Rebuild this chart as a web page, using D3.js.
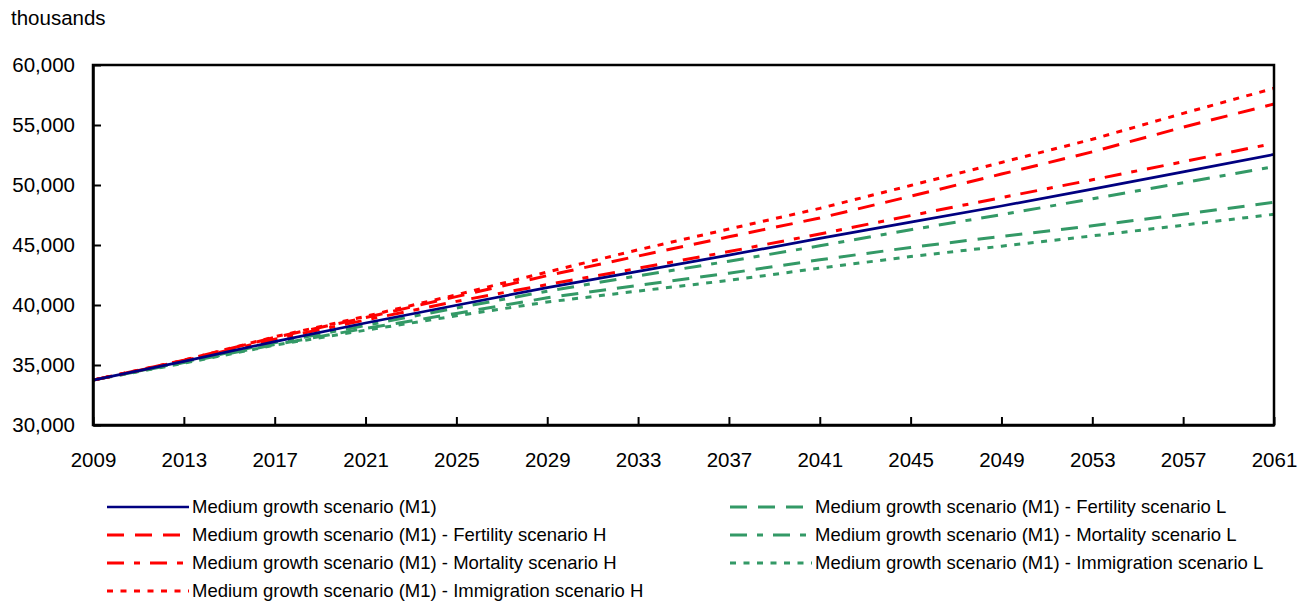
<!DOCTYPE html>
<html><head><meta charset="utf-8">
<script src="https://cdn.jsdelivr.net/npm/d3@7"></script>
<style>
body{margin:0;background:#fff}
svg text{font-family:"Liberation Sans",Arial,Helvetica,sans-serif;fill:#000}
</style>
</head><body>
<svg id="chart" width="1305" height="602"></svg>
<script>
// ---- data (thousands) ----
const years = [2009,2013,2017,2021,2025,2029,2033,2037,2041,2045,2049,2053,2057,2061];
const xTickLabels = [2009,2013,2017,2021,2025,2029,2033,2037,2041,2045,2049,2053,2057,2061];
const yTickValues = [30000,35000,40000,45000,50000,55000,60000];

const m1         = [33740,35300,36950,38500,39980,41450,42800,44160,45550,46900,48250,49650,51090,52550];
const fertilityH = [33740,35400,37300,38950,40700,42450,44080,45680,47250,49060,50910,52760,54820,56750];
const mortalityH = [33740,35350,37150,38750,40300,41700,43060,44450,45920,47450,48950,50430,51940,53475];
const immigrationH=[33740,35400,37350,39050,40850,42750,44600,46330,48050,49960,51880,53810,55970,58060];
const fertilityL = [33740,35200,36700,38050,39300,40600,41640,42650,43770,44800,45720,46600,47560,48560];
const mortalityL = [33740,35250,36850,38300,39750,41150,42430,43650,44930,46270,47530,48850,50190,51525];
const immigrationL=[33740,35150,36650,37900,39100,40250,41160,42050,43070,44040,44900,45760,46650,47560];

const seriesNames = [
  "Medium growth scenario (M1)",
  "Medium growth scenario (M1) - Fertility scenario H",
  "Medium growth scenario (M1) - Mortality scenario H",
  "Medium growth scenario (M1) - Immigration scenario H",
  "Medium growth scenario (M1) - Fertility scenario L",
  "Medium growth scenario (M1) - Mortality scenario L",
  "Medium growth scenario (M1) - Immigration scenario L"
];
const seriesValues = [m1, fertilityH, mortalityH, immigrationH, fertilityL, mortalityL, immigrationL];

// ---- styles ----
const NAVY="#000080", RED="#ff0000", GREEN="#339966";
const styles = [
  {color:NAVY, dash:null, w:2.7},
  {color:RED, dash:"17,11", w:3},
  {color:RED, dash:"17,10,6,10", w:3},
  {color:RED, dash:"6,7.5", w:3},
  {color:GREEN, dash:"17,11", w:3},
  {color:GREEN, dash:"17,10,6,10", w:3},
  {color:GREEN, dash:"6,7.5", w:3}
];

const svg = d3.select("#chart");
const L=93, R=1274, T=65, B=425;
const x = d3.scaleLinear().domain([2009,2061]).range([L,R]);
const y = d3.scaleLinear().domain([30000,60000]).range([B,T]);

const line = d3.line().x((d,i)=>x(years[i])).y(d=>y(d));
const order = [4,5,6,1,2,3,0];
order.forEach(k=>{
  svg.append("path")
    .datum(seriesValues[k])
    .attr("fill","none")
    .attr("stroke",styles[k].color)
    .attr("stroke-width",styles[k].w)
    .attr("stroke-dasharray",styles[k].dash)
    .attr("d",line);
});

// frame
svg.append("rect").attr("x",L).attr("y",T).attr("width",R-L).attr("height",B-T)
  .attr("fill","none").attr("stroke","#000").attr("stroke-width",2.5);

// axes
const FONT="Liberation Sans, Arial, sans-serif";
const xAxis = d3.axisBottom(x).tickValues(xTickLabels).tickFormat(d=>String(d))
  .tickSizeInner(-8).tickSizeOuter(0).tickPadding(27);
const gx = svg.append("g").attr("transform",`translate(0,${B})`).call(xAxis);
gx.select(".domain").attr("stroke","#000").attr("stroke-width",2.5);
gx.selectAll(".tick line").attr("stroke","#000").attr("stroke-width",2);
gx.selectAll(".tick text").style("font-size","20.5px").style("font-family",FONT);

const yAxis = d3.axisLeft(y).tickValues(yTickValues).tickFormat(d3.format(","))
  .tickSizeInner(-8).tickSizeOuter(0).tickPadding(18);
const gy = svg.append("g").attr("transform",`translate(${L},0)`).call(yAxis);
gy.select(".domain").attr("stroke","#000").attr("stroke-width",2.5);
gy.selectAll(".tick line").attr("stroke","#000").attr("stroke-width",2);
gy.selectAll(".tick text").style("font-size","20.5px").style("font-family",FONT);

// unit label
svg.append("text").attr("x",11).attr("y",25).style("font-size","20.5px").text("thousands");

// legend
const legendPos = [
  {x:107, y:507},{x:107, y:535},{x:107, y:563},{x:107, y:591},
  {x:730, y:507},{x:730, y:535},{x:730, y:563}
];
seriesNames.forEach((name,k)=>{
  const p = legendPos[k];
  const g = svg.append("g").attr("transform",`translate(${p.x},${p.y})`);
  g.append("line").attr("x1",0).attr("x2",82).attr("y1",0).attr("y2",0)
    .attr("stroke",styles[k].color).attr("stroke-width",styles[k].w)
    .attr("stroke-dasharray",styles[k].dash);
  g.append("text").attr("x",85).attr("y",0).attr("dy","0.35em")
    .style("font-size","18.5px").text(name);
});
</script>
</body></html>
